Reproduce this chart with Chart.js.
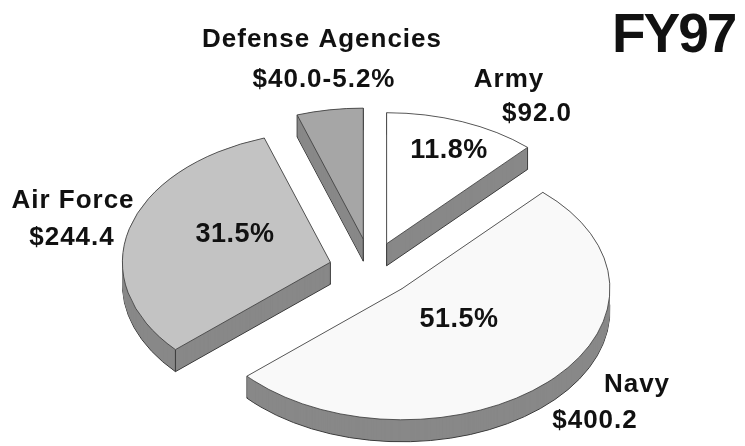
<!DOCTYPE html>
<html><head><meta charset="utf-8">
<script src="https://cdn.jsdelivr.net/npm/chart.js@4/dist/chart.umd.min.js"></script>
<style>html,body{margin:0;padding:0;background:#fff;}canvas{display:block;}</style>
</head><body>
<canvas id="c" width="745" height="446"></canvas>
<script>
// ---- data ----
const categories = ['Army', 'Navy', 'Air Force', 'Defense Agencies'];
const budget = [92.0, 400.2, 244.4, 40.0];          // $ millions, FY97
const chartTitle = 'FY97';

// ---- style / layout ----
const topColors = ['#ffffff', '#f9f9f9', '#c3c3c3', '#a6a6a6'];
const sideColor = '#888888';
const edgeColor = '#3a3a3a';
const explode = [43, 44, 42, 48];
const tilt = 0.63;
const depth = 22;
const textColor = '#111111';
const labelFont = 'bold 26px "Liberation Sans", Arial, sans-serif';
const pctFont = 'bold 27px "Liberation Sans", Arial, sans-serif';
const titleFont = 'bold 55px "Liberation Sans", Arial, sans-serif';

const total = budget.reduce((a, b) => a + b, 0);
const pct = budget.map(v => (v / total * 100).toFixed(1) + '%');
const money = budget.map(v => '$' + v.toFixed(1));

// text placement (center x, baseline y)
const nameText = [
  {t: categories[0], x: 509, y: 87},
  {t: categories[1], x: 637, y: 392},
  {t: categories[2], x: 73, y: 208},
  {t: categories[3], x: 322, y: 47}
];
const valueText = [
  {t: money[0], x: 537, y: 121},
  {t: money[1], x: 595, y: 428},
  {t: money[2], x: 72, y: 245},
  {t: money[3] + '-' + pct[3], x: 324, y: 87}
];
const pctText = [
  {t: pct[0], x: 449, y: 158},
  {t: pct[1], x: 459, y: 327},
  {t: pct[2], x: 235, y: 242}
];

const pie3d = {
  id: 'pie3d',
  beforeDatasetsDraw(chart) {
    const ctx = chart.ctx;
    const arcs = chart.getDatasetMeta(0).data;
    const geo = arcs.map((a, i) => {
      const mid = (a.startAngle + a.endAngle) / 2;
      const ex = Math.cos(mid) * explode[i], ey = Math.sin(mid) * explode[i];
      return {a, ex, ey, cx: a.x + ex, cy: a.y + tilt * ey, r: a.outerRadius, s: a.startAngle, e: a.endAngle};
    });
    const path = (g, dy) => {
      ctx.beginPath();
      ctx.moveTo(g.cx, g.cy + dy);
      ctx.ellipse(g.cx, g.cy + dy, g.r, g.r * tilt, 0, g.s, g.e);
      ctx.closePath();
    };
    geo.forEach(g => {
      ctx.save();
      ctx.fillStyle = sideColor; ctx.strokeStyle = edgeColor; ctx.lineWidth = 1;
      path(g, depth); ctx.fill(); ctx.stroke();
      for (let dy = depth - 1; dy >= 0; dy -= 1) { path(g, dy); ctx.fill(); }
      const pts = [[g.cx, g.cy],
        [g.cx + g.r * Math.cos(g.s), g.cy + g.r * tilt * Math.sin(g.s)],
        [g.cx + g.r * Math.cos(g.e), g.cy + g.r * tilt * Math.sin(g.e)]];
      ctx.beginPath();
      pts.forEach(p => { ctx.moveTo(p[0], p[1]); ctx.lineTo(p[0], p[1] + depth); });
      ctx.stroke();
      ctx.restore();
    });
    geo.forEach(g => {
      ctx.save();
      ctx.translate(g.ex, g.a.y + tilt * g.ey);
      ctx.scale(1, tilt);
      ctx.translate(0, -g.a.y);
      g.a.draw(ctx);
      ctx.restore();
    });
    return false;
  },
  afterDraw(chart) {
    const ctx = chart.ctx;
    ctx.save();
    ctx.fillStyle = textColor;
    ctx.textBaseline = 'alphabetic';
    ctx.textAlign = 'center';
    ctx.font = labelFont;
    ctx.letterSpacing = '1px';
    nameText.concat(valueText).forEach(o => ctx.fillText(o.t, o.x, o.y));
    ctx.font = pctFont;
    ctx.letterSpacing = '0.5px';
    pctText.forEach(o => ctx.fillText(o.t, o.x, o.y));
    ctx.font = titleFont;
    ctx.letterSpacing = '-2px';
    ctx.textAlign = 'left';
    ctx.fillText(chartTitle, 612, 52);
    ctx.restore();
  }
};

new Chart(document.getElementById('c'), {
  type: 'pie',
  data: {
    labels: categories,
    datasets: [{
      data: budget,
      backgroundColor: topColors,
      borderColor: edgeColor,
      borderWidth: 1,
      offset: 0
    }]
  },
  options: {
    responsive: false,
    animation: false,
    devicePixelRatio: 1,
    radius: 208,
    events: [],
    layout: {padding: {left: 0, right: 3, top: 92, bottom: 0}},
    plugins: {legend: {display: false}, tooltip: {enabled: false}, title: {display: false}}
  },
  plugins: [pie3d]
});
</script>
</body></html>
